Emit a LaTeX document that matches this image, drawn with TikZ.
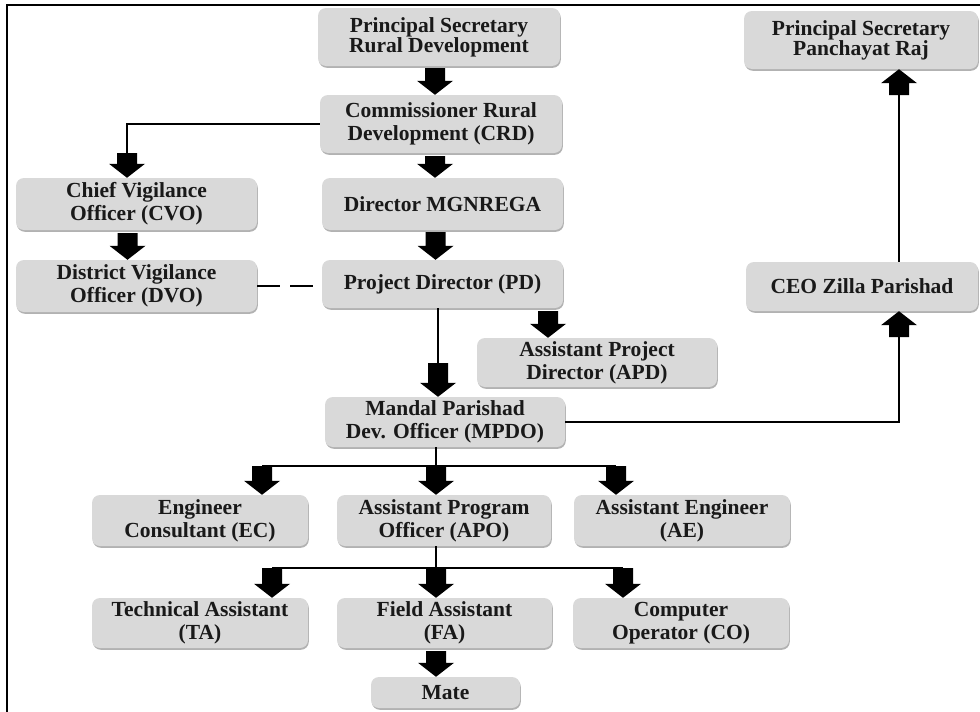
\documentclass[tikz,border=0pt]{standalone}
\usepackage{fontspec}
\setmainfont{Liberation Serif}
\usetikzlibrary{calc,shadows}
\definecolor{boxgray}{HTML}{D9D9D9}
\newcommand{\fatdown}[2]{\fill[fatfill] let \p1=(#1), \p2=(#2) in
  (\x1-10pt,\y1) -- (\x1+10pt,\y1) -- (\x1+10pt,\y2+14pt) -- (\x1+18pt,\y2+14pt)
  -- (\x1,\y2) -- (\x1-18pt,\y2+14pt) -- (\x1-10pt,\y2+14pt) -- cycle;}
\newcommand{\fatup}[2]{\fill[fatfill] let \p1=(#1), \p2=(#2) in
  (\x1-10pt,\y1) -- (\x1+10pt,\y1) -- (\x1+10pt,\y2-14pt) -- (\x1+18pt,\y2-14pt)
  -- (\x1,\y2) -- (\x1-18pt,\y2-14pt) -- (\x1-10pt,\y2-14pt) -- cycle;}
\begin{document}
\begin{tikzpicture}[x=1pt,y=-1pt,
  box/.style={fill=boxgray, rounded corners=8pt, align=center, inner sep=0pt,
    font=\bfseries\fontsize{21.5}{23}\selectfont, text=black!90,
    drop shadow={shadow xshift=0.8pt, shadow yshift=-1.8pt, opacity=0.3, fill=black}},
  conn/.style={line width=2pt, draw=black},
  fatfill/.style={fill=black}]
\useasboundingbox (0,0) rectangle (980,712);
\fill[white] (0,0) rectangle (980,712);
\draw[line width=2.5pt] (7,712) -- (7,5) -- (980,5);

\node[box, minimum width=242pt, minimum height=58pt] (psrd) at (439,37) {Principal Secretary\\[-3pt]Rural Development};
\node[box, minimum width=242pt, minimum height=58pt] (crd) at (441,124) {Commissioner Rural\\Development (CRD)};
\node[box, minimum width=241pt, minimum height=52pt] (cvo) at (136.5,204) {Chief Vigilance\\Officer (CVO)};
\node[box, minimum width=241pt, minimum height=52pt] (dmg) at (442.5,204) {Director MGNREGA};
\node[box, minimum width=241pt, minimum height=52pt] (dvo) at (136.5,286) {District Vigilance\\Officer (DVO)};
\node[box, minimum width=241pt, minimum height=48pt] (pd) at (442.5,284) {Project Director (PD)};
\node[box, minimum width=240pt, minimum height=49pt] (apd) at (597,362.5) {Assistant Project\\Director (APD)};
\node[box, minimum width=240pt, minimum height=50pt] (mpdo) at (445,422) {Mandal Parishad\\Dev. Officer (MPDO)};
\node[box, minimum width=234pt, minimum height=58pt] (pspr) at (861,40) {Principal Secretary\\[-3pt]Panchayat Raj};
\node[box, minimum width=232pt, minimum height=49pt] (ceo) at (862,286.5) {CEO Zilla Parishad};
\node[box, minimum width=216pt, minimum height=51pt] (ec) at (200,520.5) {Engineer\\Consultant (EC)};
\node[box, minimum width=214pt, minimum height=51pt] (apo) at (444,520.5) {Assistant Program\\Officer (APO)};
\node[box, minimum width=216pt, minimum height=51pt] (ae) at (682,520.5) {Assistant Engineer\\(AE)};
\node[box, minimum width=216pt, minimum height=50pt] (ta) at (200,623) {Technical Assistant\\(TA)};
\node[box, minimum width=215pt, minimum height=50pt] (fa) at (444.5,623) {Field Assistant\\(FA)};
\node[box, minimum width=216pt, minimum height=50pt] (co) at (681,623) {Computer\\Operator (CO)};
\node[box, minimum width=149pt, minimum height=31pt] (mate) at (445.5,692.5) {Mate};

% main column
\fatdown{$(psrd.south)+(-4,2)$}{crd.north}
\fatdown{$(crd.south)+(-6,3)$}{dmg.north}
\fatdown{$(dmg.south)+(-7,2)$}{pd.north}
% vigilance
\coordinate (k1) at (127,153);
\draw[conn] (crd.west) -| (k1);
\fatdown{k1}{cvo.north}
\fatdown{$(cvo.south)+(-9,3)$}{dvo.north}
\draw[conn, line width=2.5pt, dash pattern=on 23pt off 10pt] (dvo.east) -- (dvo.east -| pd.west);
% PD
\coordinate (k2) at (548,311);
\fatdown{k2}{apd.north}
\coordinate (k3) at (438,363);
\draw[conn] (pd.south -| k3) -- (k3);
\fatdown{k3}{mpdo.north}
% panchayat raj side
\coordinate (k4) at (899,337);
\draw[conn] (mpdo.east) -| (k4);
\fatup{k4}{ceo.south}
\coordinate (k5) at (899,95);
\draw[conn] (ceo.north -| k5) -- (k5);
\fatup{k5}{pspr.south}
% fork 1
\coordinate (j1) at (436,466);
\coordinate (j1l) at (262,466);
\coordinate (j1r) at (616,466);
\draw[conn] (mpdo.south -| j1) -- (j1);
\draw[conn] (j1l) -- (j1r);
\fatdown{j1l}{ec.north}
\fatdown{j1}{apo.north}
\fatdown{j1r}{ae.north}
% fork 2
\coordinate (j2) at (436,568);
\coordinate (j2l) at (272,568);
\coordinate (j2r) at (623,568);
\draw[conn] (apo.south -| j2) -- (j2);
\draw[conn] (j2l) -- (j2r);
\fatdown{j2l}{ta.north}
\fatdown{j2}{fa.north}
\fatdown{j2r}{co.north}
\fatdown{$(fa.south)+(-8.5,3)$}{mate.north}
\end{tikzpicture}
\end{document}
